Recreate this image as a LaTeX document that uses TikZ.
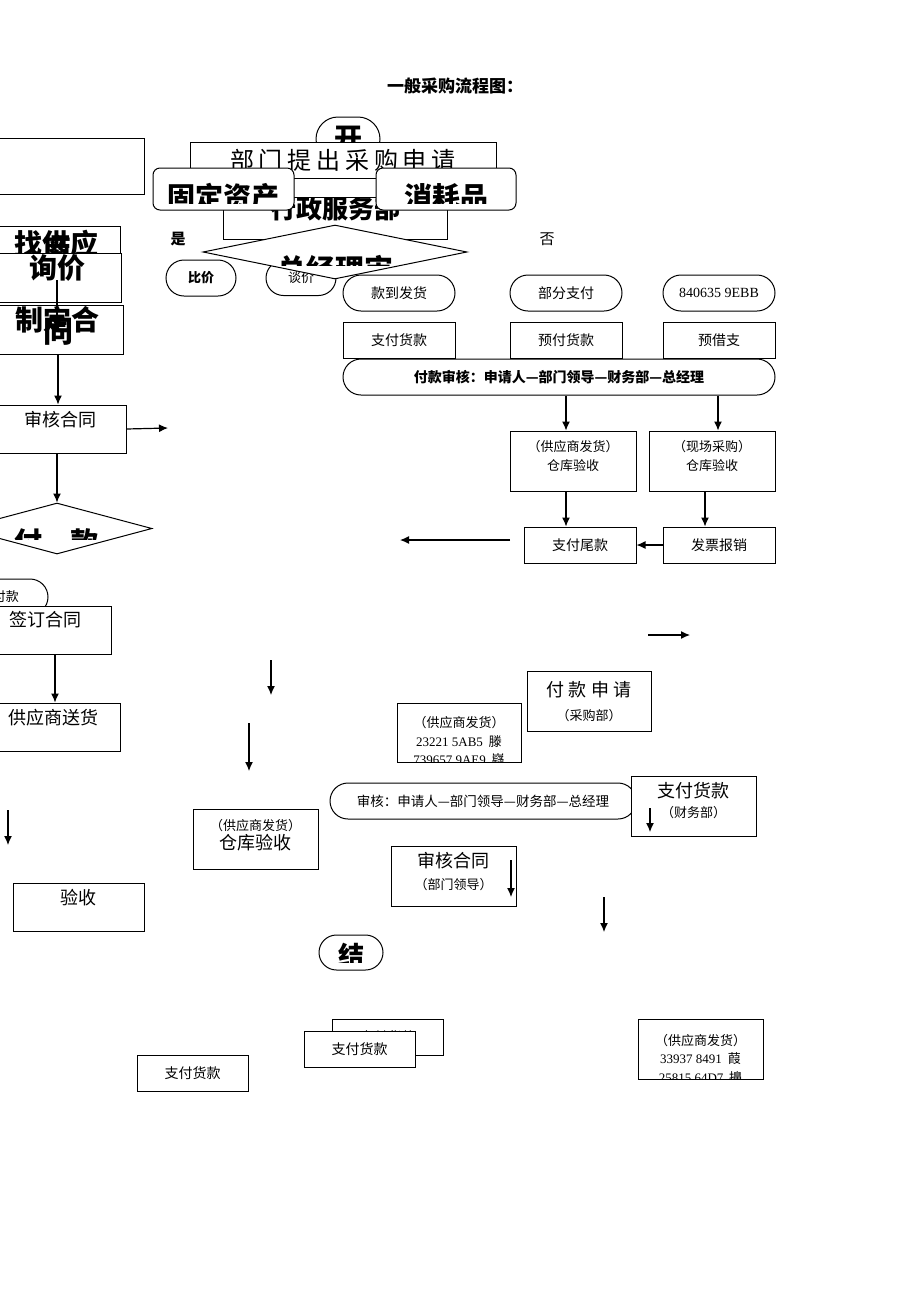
\documentclass[tikz,border=0pt]{standalone}
\usepackage{fontspec}
\setmainfont{Noto Sans CJK SC}
\newfontfamily\numfont{Liberation Serif}
\newfontfamily\widefont[LetterSpace=20]{Noto Sans CJK SC}
\usetikzlibrary{arrows.meta, shapes.geometric, shapes.misc}
\newcommand\fs[2]{\fontsize{#1}{#2}\selectfont}

\begin{document}
\begin{tikzpicture}[x=1pt, y=-1pt, line width=1pt,
        box/.style={rectangle, draw, fill=white, inner sep=0pt, font=\fs{14}{18}},
        pill/.style={rounded rectangle, draw, fill=white, inner sep=0pt, font=\fs{14}{18}},
        card/.style={rectangle, rounded corners=7pt, draw, fill=white, inner sep=0pt},
        gate/.style={diamond, draw, fill=white, inner sep=0pt},
        sz/.style 2 args={minimum width=#1pt, minimum height=#2pt},
        toptext/.style={anchor=north, align=center, inner sep=0pt},
        inside/.style={draw=none, fill=none, inner sep=0pt, align=center},
        txt/.style 2 args={path picture={
            \node[inside] at ([yshift=#1]path picture bounding box.center) {#2};}},
        cuttxt/.style n args={3}{path picture={
            \clip (path picture bounding box.north west) rectangle ([yshift=#1]path picture bounding box.south east);
            \node[inside] at ([yshift=#2]path picture bounding box.center) {#3};}},
        arr/.style={line width=1.2pt, -{Latex[length=9pt, width=8pt]}}
    ]
    \useasboundingbox (0,0) rectangle (920,1302);
    \node[font=\fs{17}{17}\bfseries] (title) at (455,86) {一般采购流程图：};

    % top of the chart
    \node[box, sz={184}{56}] (blank) at (52,166) {};
    \node[pill, sz={64}{44}, font=\fs{28}{28}\bfseries] (start) at (348,139) {开};
    \node[box, sz={306}{36}, font=\widefont\fs{24}{24}] (apply) at (343,160) {部门提出采购申请};
    \node[box, sz={224}{42}, txt={9pt}{\fs{26}{26}\bfseries 行政服务部}] (admin) at (335,218) {};
    \node[card, sz={141}{42}, cuttxt={7pt}{-8pt}{\fs{28}{28}\bfseries 固定资产}] (fixed) at (223.5,189) {};
    \node[card, sz={140}{42}, cuttxt={7pt}{-8pt}{\fs{28}{28}\bfseries 消耗品}] (consum) at (446,189) {};
    \node[font=\fs{15}{15}\bfseries] (yes) at (178,239) {是};
    \node[font=\fs{15}{15}] (no) at (547,239) {否};
    \node[pill, sz={70}{36}, font=\fs{13}{13}\bfseries] (bijia) at (201,278) {比价};
    \node[pill, sz={70}{35}, font=\fs{13}{13}] (tanjia) at (301,278) {谈价};
    \node[gate, sz={264}{54}, cuttxt={13pt}{-17pt}{\fs{29}{29}\bfseries 总经理审}] (boss) at (335,252) {};

    % payment ways
    \node[pill, sz={112}{36}] (cod) at (399,293) {款到发货};
    \node[pill, sz={112}{36}] (part) at (566,293) {部分支付};
    \node[pill, sz={112}{36}, font=\numfont\fs{14}{14}] (code) at (719,293) {840635 9EBB};
    \node[box, sz={112}{36}] (payA) at (399,340) {支付货款};
    \node[box, sz={112}{36}] (payB) at (566,340) {预付货款};
    \node[box, sz={112}{36}] (payC) at (719,340) {预借支};
    \node[pill, sz={432}{36}, font=\fs{14}{14}\bfseries] (audit) at (559,377) {付款审核：申请人—部门领导—财务部—总经理};
    \node[box, sz={126}{60}, label={[toptext, yshift=-9pt, font=\fs{13}{19}]north:（供应商发货）\\仓库验收}] (recvA) at (573,461) {};
    \node[box, sz={126}{60}, label={[toptext, yshift=-9pt, font=\fs{13}{19}]north:（现场采购）\\仓库验收}] (recvB) at (712,461) {};
    \node[box, sz={112}{36}] (tail) at (580,545) {支付尾款};
    \node[box, sz={112}{36}] (invoice) at (719,545) {发票报销};
    \draw[arr] ([xshift=-7pt]recvA.north |- audit.south) -- ([xshift=-7pt]recvA.north);
    \draw[arr] ([xshift=6pt]recvB.north |- audit.south) -- ([xshift=6pt]recvB.north);
    \draw[arr] ([xshift=-7pt]recvA.south) -- ([xshift=-7pt]recvA.south |- tail.north);
    \draw[arr] ([xshift=-7pt]recvB.south) -- ([xshift=-7pt]recvB.south |- invoice.north);
    \draw[arr] (invoice.west) -- (tail.east);

    % left column
    \node[box, sz={126}{36}, font=\fs{28}{28}\bfseries] (find) at (57,244) {找供应};
    \node[inner sep=0pt, font=\fs{28}{28}\bfseries] (findB) at (57,249) {商};
    \node[box, sz={126}{49}, txt={9.5pt}{\fs{28}{28}\bfseries 询价}] (inquiry) at (58,277.5) {};
    \node[box, sz={130}{49}, path picture={
        \node[inside, font=\fs{28}{28}\bfseries] at ([yshift=9.5pt]path picture bounding box.center) {制定合};
        \node[inside, font=\fs{30}{30}\bfseries] at ([yshift=-2.5pt]path picture bounding box.center) {同};}]
        (draft) at (58,329.5) {};
    \node[box, sz={132}{48}, label={[toptext, yshift=-6pt, font=\fs{18}{18}]north:审核合同}] (review) at (60,429) {};
    \node[gate, sz={190}{51}, cuttxt={14pt}{-13.5pt}{\fs{28}{28}\bfseries 付\hspace{1em}款}] (paydia) at (57,528.5) {};
    \node[pill, sz={108}{36}, path picture={
        \node[inside, font=\fs{13}{13}] at ([xshift=12pt]path picture bounding box.center) {付款};}]
        (payoval) at (-6,597) {};
    \node[box, sz={131}{48}, label={[toptext, yshift=-5pt, font=\fs{18}{18}]north:签订合同}] (sign) at (45.5,630) {};
    \node[box, sz={132}{48}, label={[toptext, yshift=-6pt, font=\fs{18}{18}]north:供应商送货}] (deliver) at (54,727) {};
    \node[box, sz={131}{48}, label={[toptext, yshift=-6pt, font=\fs{18}{18}]north:验收}] (check) at (78.5,907) {};
    \draw[arr] (draft.south) -- (draft.south |- review.north);
    \draw[arr] (paydia.north |- review.south) -- (paydia.north);
    \draw[arr] ([xshift=9.5pt]sign.south) -- ([xshift=9.5pt]sign.south |- deliver.north);

    % lower part
    \node[box, sz={124}{59}, path picture={
        \node[toptext, font=\fs{13}{18.5}] at ([yshift=-8pt]path picture bounding box.north)
            {（供应商发货）\\{\numfont 23221 5AB5}\ \ 滕\\{\numfont 739657 9AE9}\ \ 嶷};}]
        (supA) at (459,732.5) {};
    \node[box, sz={124}{60}, label={[toptext, yshift=-10pt, font=\fs{13}{24}]north:{\fs{18}{24}付 款 申 请}\\（采购部）}] (payreq) at (589,701) {};
    \node[pill, sz={306}{36}, font=\fs{13.5}{14}] (audit2) at (483,801) {审核：申请人—部门领导—财务部—总经理};
    \node[box, sz={125}{60}, label={[toptext, yshift=-6pt, font=\fs{13}{20}]north:{\fs{18}{20}支付货款}\\（财务部）}] (finpay) at (693.5,806) {};
    \node[box, sz={125}{60}, label={[toptext, yshift=-10pt, font=\fs{13}{19}]north:（供应商发货）\\{\fs{18}{19}仓库验收}}] (whrecv) at (255.5,839) {};
    \node[box, sz={125}{60}, label={[toptext, yshift=-6pt, font=\fs{13}{22}]north:{\fs{18}{22}审核合同}\\（部门领导）}] (review2) at (453.5,876) {};
    \node[pill, sz={64}{35}, cuttxt={8pt}{-3.5pt}{\fs{26}{26}\bfseries 结}] (finish) at (351,952.5) {};
    \node[box, sz={111}{36}] (payback) at (387.5,1037) {支付货款};
    \node[box, sz={111}{36}] (payfront) at (359.5,1049) {支付货款};
    \node[box, sz={111}{36}] (paylast) at (192.5,1073) {支付货款};
    \node[box, sz={125}{60}, path picture={
        \node[toptext, font=\fs{13}{18.5}] at ([yshift=-9pt]path picture bounding box.north)
            {（供应商发货）\\{\numfont 33937 8491}\ \ 葭\\{\numfont 25815 64D7}\ \ 擤};}]
        (supB) at (700.5,1049) {};

    % loose arrows
    \coordinate (q1) at (57,280);   \coordinate (q2) at (57,330);
    \coordinate (rv) at (168,428);
    \coordinate (t1) at (510,540);  \coordinate (t2) at (400,540);
    \coordinate (a1) at (271,660);  \coordinate (a2) at (271,695);
    \coordinate (b1) at (249,723);  \coordinate (b2) at (249,771);
    \coordinate (c1) at (648,635);  \coordinate (c2) at (690,635);
    \coordinate (d1) at (8,810);    \coordinate (d2) at (8,845);
    \coordinate (e1) at (604,897);  \coordinate (e2) at (604,932);
    \coordinate (g1) at (650,808);  \coordinate (g2) at (650,832);
    \coordinate (h1) at (511,860);  \coordinate (h2) at (511,897);
    \draw[arr] (review.east) -- (rv);
    \foreach \a/\b in {q1/q2, t1/t2, a1/a2, b1/b2, c1/c2, d1/d2, e1/e2, g1/g2, h1/h2}
        \draw[arr] (\a) -- (\b);
\end{tikzpicture}
\end{document}
